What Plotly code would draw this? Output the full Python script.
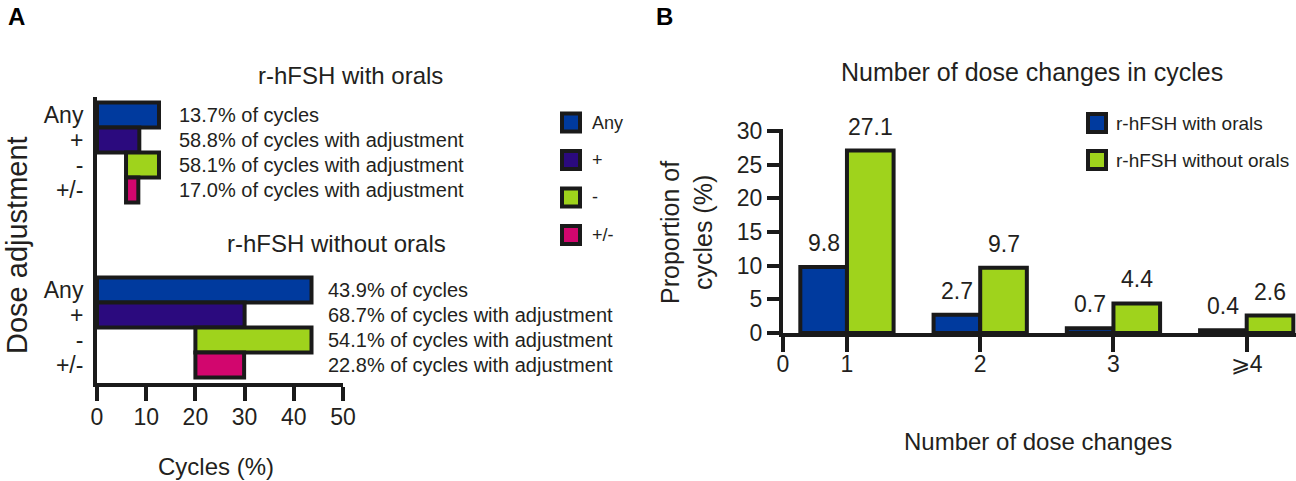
import plotly.graph_objects as go

# ---------------- Data ----------------
# Panel A: floating horizontal bars (start and end of each bar, % of cycles)
a_rows = ["Any", "+", "-", "+/-"]
a_colors = ["#003a9e", "#2b0a7e", "#9fd31c", "#d2066e"]
with_start = [0, 0, 5.9, 5.9]
with_end = [12.6, 8.6, 12.6, 8.4]
without_start = [0, 0, 20.0, 20.0]
without_end = [43.6, 30.0, 43.6, 29.9]
with_labels = ["13.7% of cycles", "58.8% of cycles with adjustment",
               "58.1% of cycles with adjustment", "17.0% of cycles with adjustment"]
without_labels = ["43.9% of cycles", "68.7% of cycles with adjustment",
                  "54.1% of cycles with adjustment", "22.8% of cycles with adjustment"]
a_xticks = [0, 10, 20, 30, 40, 50]

# Panel B: grouped bars
b_categories = ["1", "2", "3", "\u2a7e4"]
b_with = [9.8, 2.7, 0.7, 0.4]
b_without = [27.1, 9.7, 4.4, 2.6]
b_series = ["r-hFSH with orals", "r-hFSH without orals"]
b_colors = ["#003a9e", "#9fd31c"]
b_yticks = [0, 5, 10, 15, 20, 25, 30]

FONT = "Liberation Sans, Arial, sans-serif"
TXT = "#231f20"
W, H = 1296, 481

def px(x):
    return x / W

def py(y):
    return 1 - y / H

fig = go.Figure()

# ---------------- Panel A ----------------
with_pos = [10 - i for i in range(len(a_rows))]
without_pos = [3 - i for i in range(len(a_rows))]

for i, name in enumerate(a_rows):
    for pos, s, e in ((with_pos, with_start, with_end), (without_pos, without_start, without_end)):
        fig.add_trace(go.Bar(
            orientation="h", y=[pos[i]], x=[e[i] - s[i]], base=[s[i]],
            width=1.0, marker=dict(color=a_colors[i], line=dict(color="#1a1a1a", width=4)),
            xaxis="x", yaxis="y", showlegend=False, hoverinfo="skip"))

for i in range(len(a_rows)):
    fig.add_annotation(x=16.2, y=with_pos[i], xref="x", yref="y", text=with_labels[i],
                       xanchor="left", yanchor="middle", showarrow=False,
                       font=dict(size=20, color=TXT, family=FONT))
    fig.add_annotation(x=46.6, y=without_pos[i], xref="x", yref="y", text=without_labels[i],
                       xanchor="left", yanchor="middle", showarrow=False,
                       font=dict(size=20, color=TXT, family=FONT))

# ---------------- Panel B ----------------
b_x = [1, 2, 3, 4]
BW = 0.35
for vals, off, name, col in ((b_with, -BW, b_series[0], b_colors[0]),
                             (b_without, 0.0, b_series[1], b_colors[1])):
    fig.add_trace(go.Bar(
        x=b_x, y=vals, width=BW, offset=off, name=name,
        marker=dict(color=col, line=dict(color="#1a1a1a", width=4)),
        xaxis="x2", yaxis="y2", showlegend=False, hoverinfo="skip"))
    for xv, v in zip(b_x, vals):
        fig.add_annotation(x=xv + off + BW / 2, y=v, xref="x2", yref="y2",
                           text=f"{v:.1f}", xanchor="center", yanchor="bottom",
                           yshift=9, showarrow=False,
                           font=dict(size=23, color=TXT, family=FONT))

# ---------------- Legends (swatches + text) ----------------
shapes = []
annots = []
for i, name in enumerate(a_rows):
    yc = 122.5 + 37.5 * i
    shapes.append(dict(type="rect", xref="paper", yref="paper",
                       x0=px(562), x1=px(580), y0=py(yc + 9), y1=py(yc - 9),
                       fillcolor=a_colors[i], line=dict(color="#1a1a1a", width=4)))
    annots.append(dict(x=px(590), y=py(yc), xref="paper", yref="paper", text=name,
                       xanchor="left", yanchor="middle", showarrow=False,
                       font=dict(size=18, color=TXT, family=FONT)))
for i, name in enumerate(b_series):
    yc = 123 + 37 * i
    shapes.append(dict(type="rect", xref="paper", yref="paper",
                       x0=px(1088), x1=px(1106), y0=py(yc + 9), y1=py(yc - 9),
                       fillcolor=b_colors[i], line=dict(color="#1a1a1a", width=4)))
    annots.append(dict(x=px(1114), y=py(yc), xref="paper", yref="paper", text=name,
                       xanchor="left", yanchor="middle", showarrow=False,
                       font=dict(size=19, color=TXT, family=FONT)))

def ann(x, y, text, size, angle=0, bold=False):
    annots.append(dict(x=px(x), y=py(y), xref="paper", yref="paper",
                       text=f"<b>{text}</b>" if bold else text, textangle=angle,
                       xanchor="center", yanchor="middle", showarrow=False,
                       font=dict(size=size, color="#000" if bold else TXT, family=FONT)))

ann(16, 17, "A", 24, bold=True)
ann(664, 17, "B", 24, bold=True)
ann(350, 75, "r-hFSH with orals", 24)
ann(336, 243, "r-hFSH without orals", 24)
ann(17, 245, "Dose adjustment", 29, angle=-90)
ann(216, 466, "Cycles (%)", 24)
ann(1032, 72, "Number of dose changes in cycles", 25)
ann(1038, 441, "Number of dose changes", 24)
ann(686, 233, "Proportion of<br>cycles (%)", 25, angle=-90)

for a in annots:
    fig.add_annotation(**a)

axis_common = dict(showgrid=False, zeroline=False, showline=True, linecolor="#1a1a1a",
                   linewidth=4, ticks="outside", tickwidth=4, tickcolor="#1a1a1a",
                   automargin=False,
                   tickfont=dict(size=23, color=TXT, family=FONT), fixedrange=True)

fig.update_layout(
    width=W, height=H, margin=dict(l=0, r=0, t=0, b=0, autoexpand=False),
    plot_bgcolor="white", paper_bgcolor="white",
    barmode="overlay", showlegend=False, shapes=shapes,
    font=dict(family=FONT, color=TXT),
    xaxis=dict(axis_common, domain=[px(97), px(343)], range=[0, 50],
               tickvals=a_xticks, ticklen=14, ticklabelstandoff=-4, anchor="y"),
    yaxis=dict(axis_common, domain=[py(383), py(97)], range=[-0.72, 10.72],
               tickvals=with_pos + without_pos, ticktext=a_rows + a_rows,
               ticks="", ticklabelstandoff=5, anchor="x"),
    xaxis2=dict(axis_common, domain=[px(783), 1.0], range=[0.52, 4.37],
                tickvals=[0.52] + b_x, ticktext=["0"] + b_categories, ticklen=15,
                ticklabelstandoff=-8, anchor="y2"),
    yaxis2=dict(axis_common, domain=[py(333), py(129)], range=[0, 30.3],
                tickvals=b_yticks, ticklen=12, anchor="x2"),
)

fig.write_html("out.html", config={"displayModeBar": False, "staticPlot": True},
               post_script="document.body.style.margin='0';document.body.style.overflow='hidden';")
